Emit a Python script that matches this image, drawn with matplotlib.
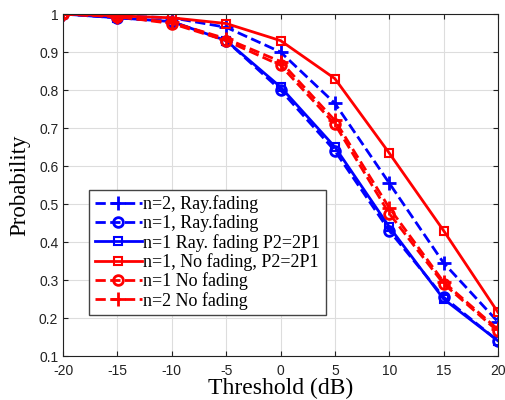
import numpy as np
import matplotlib.pyplot as plt

plt.rcParams['axes.unicode_minus'] = False

# threshold values (dB)
threshold = [-20, -15, -10, -5, 0, 5, 10, 15, 20]

# probability curves
n2_ray = [1.0, 0.995, 0.99, 0.965, 0.90, 0.765, 0.555, 0.345, 0.19]
n1_ray = [1.0, 0.99, 0.98, 0.93, 0.80, 0.64, 0.43, 0.255, 0.14]
n1_ray_p2 = [1.0, 0.99, 0.98, 0.93, 0.808, 0.65, 0.44, 0.25, 0.14]
n1_nofade_p2 = [1.0, 0.995, 0.99, 0.975, 0.93, 0.83, 0.634, 0.43, 0.215]
n1_nofade = [1.0, 0.993, 0.975, 0.93, 0.865, 0.71, 0.475, 0.29, 0.165]
n2_nofade = [1.0, 0.993, 0.978, 0.935, 0.875, 0.72, 0.49, 0.295, 0.17]

labels = ["n=2, Ray.fading", "n=1, Ray.fading", "n=1 Ray. fading P2=2P1",
          "n=1, No fading, P2=2P1", "n=1 No fading", "n=2 No fading"]
yticklabels = ['0.1', '0.2', '0.3', '0.4', '0.5', '0.6', '0.7', '0.8', '0.9', '1']

fig = plt.figure(figsize=(5.05, 4.0), dpi=100)
ax = fig.add_axes([0.125, 0.11, 0.861, 0.855])

lw = 2.0
ax.plot(threshold, n2_ray, color='blue', ls='--', lw=lw, marker='+', ms=10, mew=2, label=labels[0])
ax.plot(threshold, n1_ray, color='blue', ls='--', lw=lw, marker='o', ms=7, mew=2, mfc='none', label=labels[1])
ax.plot(threshold, n1_ray_p2, color='blue', ls='-', lw=lw, marker='s', ms=6, mew=1.5, mfc='none', label=labels[2])
ax.plot(threshold, n1_nofade_p2, color='red', ls='-', lw=lw, marker='s', ms=6, mew=1.5, mfc='none', label=labels[3])
ax.plot(threshold, n1_nofade, color='red', ls='--', lw=lw, marker='o', ms=7, mew=2, mfc='none', label=labels[4])
ax.plot(threshold, n2_nofade, color='red', ls='--', lw=lw, marker='+', ms=10, mew=2, label=labels[5])

ax.set_xlim(-20, 20)
ax.set_ylim(0.1, 1.0)
ax.set_xticks(np.arange(-20, 21, 5))
ax.set_yticks(np.arange(0.1, 1.01, 0.1))
ax.set_yticklabels(yticklabels)
ax.grid(True, color='#dddddd', lw=0.8)
ax.set_axisbelow(True)
ax.tick_params(direction='in', top=True, right=True, labelsize=10, colors='#222222')
ax.tick_params(axis='x', pad=6)
for lab in ax.get_xticklabels() + ax.get_yticklabels():
    lab.set_family('Liberation Sans')
for s in ax.spines.values():
    s.set_color('#222222')

serif = 'Liberation Serif'
ax.set_xlabel('Threshold (dB)', family=serif, fontsize=17, labelpad=0)
ax.set_ylabel('Probability', family=serif, fontsize=16.5, labelpad=6)

leg = ax.legend(loc='lower left', bbox_to_anchor=(0.06, 0.12), prop={'family': serif, 'size': 13},
                fancybox=False, edgecolor='#444444', framealpha=1, handlelength=2.6,
                handletextpad=0.1, labelspacing=0.08, borderpad=0.3, borderaxespad=0)
leg.get_frame().set_linewidth(1.0)

fig.savefig('out.png', dpi=100)
